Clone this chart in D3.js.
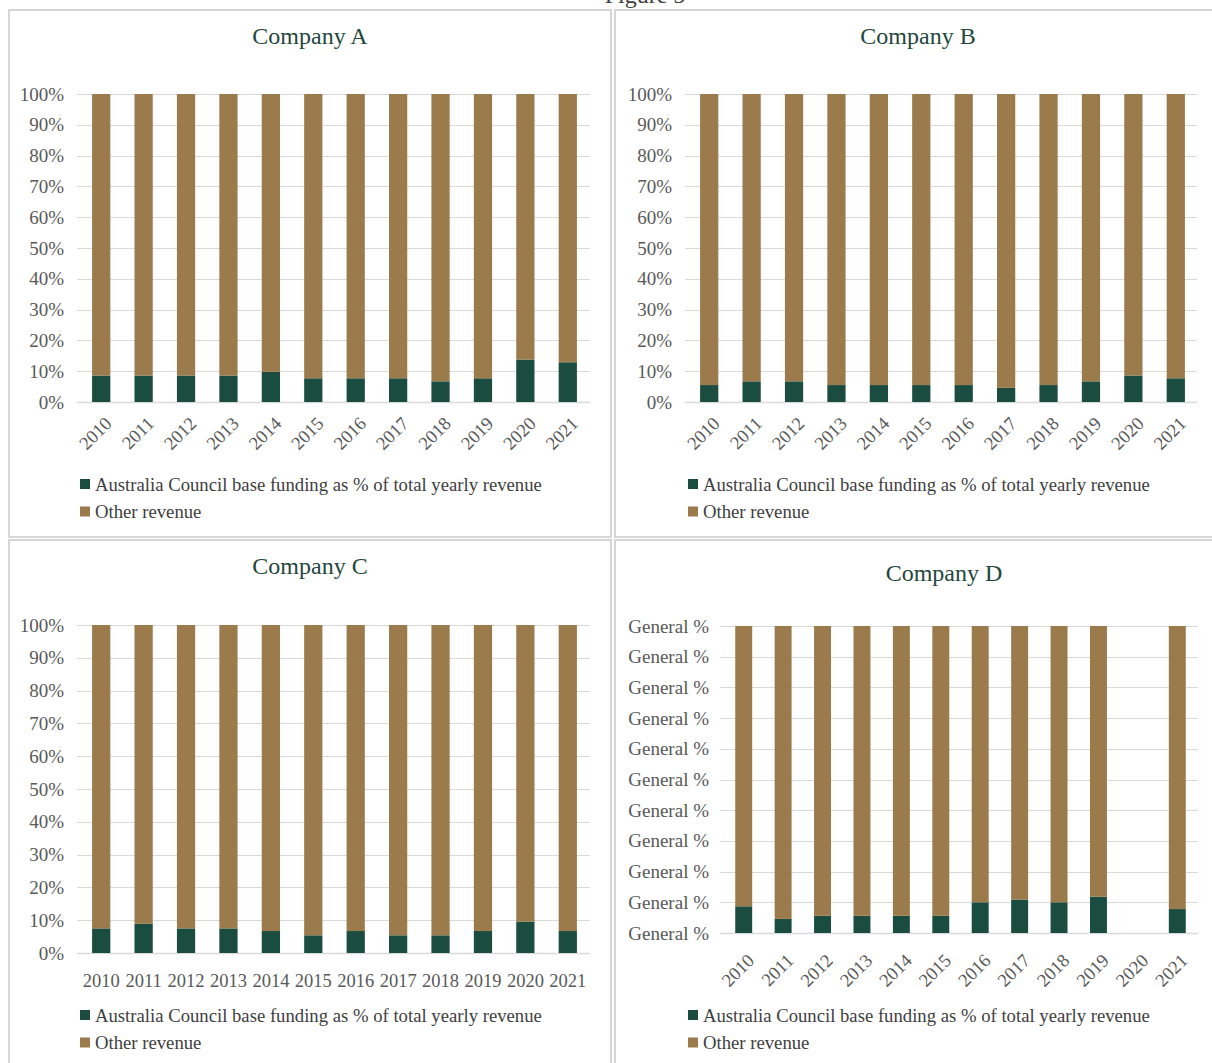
<!DOCTYPE html>
<html>
<head>
<meta charset="utf-8">
<script src="https://cdn.jsdelivr.net/npm/d3@7"></script>
<style>
  html, body { margin: 0; padding: 0; background: #ffffff; }
  svg { display: block; font-family: "Liberation Serif", "Times New Roman", serif; }
</style>
</head>
<body>
<svg id="chart" width="1212" height="1063"></svg>
<script>
// Years on the category axis
const years = ["2010","2011","2012","2013","2014","2015","2016","2017","2018","2019","2020","2021"];

// Australia Council base funding as % of total yearly revenue
const fundingA = [8.6, 8.6, 8.6, 8.6, 9.8, 7.7, 7.7, 7.7, 6.7, 7.7, 13.8, 12.9];
const fundingB = [5.5, 6.7, 6.7, 5.5, 5.5, 5.5, 5.5, 4.6, 5.5, 6.7, 8.6, 7.7];
const fundingC = [7.5, 8.9, 7.5, 7.5, 6.7, 5.4, 6.7, 5.4, 5.4, 6.7, 9.6, 6.7];
const fundingD = [8.7, 4.6, 5.6, 5.6, 5.6, 5.6, 10.0, 10.9, 10.0, 11.8, 0, 7.8];

// Other revenue share
const otherA = [91.4, 91.4, 91.4, 91.4, 90.2, 92.3, 92.3, 92.3, 93.3, 92.3, 86.2, 87.1];
const otherB = [94.5, 93.3, 93.3, 94.5, 94.5, 94.5, 94.5, 95.4, 94.5, 93.3, 91.4, 92.3];
const otherC = [92.5, 91.1, 92.5, 92.5, 93.3, 94.6, 93.3, 94.6, 94.6, 93.3, 90.4, 93.3];
const otherD = [91.3, 95.4, 94.4, 94.4, 94.4, 94.4, 90.0, 89.1, 90.0, 88.2, 0, 92.2];

// Value axis ticks and their labels
const yTicks = [0, 10, 20, 30, 40, 50, 60, 70, 80, 90, 100];
const percentLabels = ["0%","10%","20%","30%","40%","50%","60%","70%","80%","90%","100%"];
const generalLabels = ["General %","General %","General %","General %","General %","General %","General %","General %","General %","General %","General %"];

const seriesNames = ["Australia Council base funding as % of total yearly revenue", "Other revenue"];
const figureTitle = "Figure 5";

const COLORS = { funding: "#1a4d3f", other: "#9b7a4c" };
const GRID = "#d9d9d9";
const BORDER = "#d6d6d6";
const AXIS_TEXT = "#595959";
const TITLE_TEXT = "#24473d";
const LEGEND_TEXT = "#404040";

const svg = d3.select("#chart");

// Figure heading, mostly above the visible area
svg.append("text")
  .attr("x", 645).attr("y", 3)
  .attr("text-anchor", "middle")
  .attr("font-size", 24)
  .attr("fill", "#404040")
  .text(figureTitle);

const panels = [
  { title: "Company A", funding: fundingA, other: otherA, labels: percentLabels,
    box: [9, 10, 602, 527], titleX: 310, titleY: 44,
    grid: [77, 590], band: [80, 589], labelX: 64, xLabelShift: 18,
    plot: { y0: 94, y1: 402 }, rotate: true, legendX: 80, legendY: 484 },
  { title: "Company B", funding: fundingB, other: otherB, labels: percentLabels,
    box: [615, 10, 599, 527], titleX: 918, titleY: 44,
    grid: [685, 1197], band: [688, 1197], labelX: 672, xLabelShift: 18,
    plot: { y0: 94, y1: 402 }, rotate: true, legendX: 688, legendY: 484 },
  { title: "Company C", funding: fundingC, other: otherC, labels: percentLabels,
    box: [9, 540, 602, 530], titleX: 310, titleY: 574,
    grid: [77, 590], band: [80, 589], labelX: 64, xLabelShift: 0,
    plot: { y0: 625, y1: 953 }, rotate: false, legendX: 80, legendY: 1015 },
  { title: "Company D", funding: fundingD, other: otherD, labels: generalLabels,
    box: [615, 540, 599, 530], titleX: 944, titleY: 581,
    grid: [720, 1198], band: [724, 1197], labelX: 709, xLabelShift: 24,
    plot: { y0: 626, y1: 933 }, rotate: true, legendX: 688, legendY: 1015 }
];

panels.forEach(p => {
  const g = svg.append("g");

  // Panel frame
  g.append("rect")
    .attr("x", p.box[0]).attr("y", p.box[1])
    .attr("width", p.box[2]).attr("height", p.box[3])
    .attr("fill", "#ffffff")
    .attr("stroke", BORDER).attr("stroke-width", 2);

  // Panel title
  g.append("text")
    .attr("x", p.titleX)
    .attr("y", p.titleY)
    .attr("text-anchor", "middle")
    .attr("font-size", 24)
    .attr("fill", TITLE_TEXT)
    .text(p.title);

  const x = d3.scaleBand().domain(years).range(p.band).paddingInner(0.57).paddingOuter(0.285);
  const y = d3.scaleLinear().domain([0, 100]).range([p.plot.y1, p.plot.y0]);

  // Horizontal gridlines
  g.append("g").selectAll("line").data(yTicks).join("line")
    .attr("x1", p.grid[0]).attr("x2", p.grid[1])
    .attr("y1", d => Math.round(y(d)) + 0.5).attr("y2", d => Math.round(y(d)) + 0.5)
    .attr("stroke", GRID).attr("stroke-width", d => d === 0 ? 1.5 : 1.2);

  // Value axis labels
  const yAxis = d3.axisLeft(y).tickValues(yTicks)
    .tickFormat((d, i) => p.labels[i]).tickSize(0).tickPadding(0);
  const ya = g.append("g").attr("transform", `translate(${p.labelX},0)`).call(yAxis);
  ya.select(".domain").remove();
  ya.selectAll("text").attr("font-size", 19).attr("fill", AXIS_TEXT)
    .attr("font-family", "Liberation Serif, serif");

  // Stacked bars
  const rows = years.map((yr, i) => ({ year: yr, funding: p.funding[i], other: p.other[i] }));
  const stacked = d3.stack().keys(["funding", "other"])(rows);
  g.append("g").selectAll("g").data(stacked).join("g")
    .attr("fill", d => COLORS[d.key])
    .selectAll("rect").data(d => d).join("rect")
      .attr("x", d => x(d.data.year))
      .attr("width", x.bandwidth())
      .attr("y", d => y(d[1]))
      .attr("height", d => y(d[0]) - y(d[1]));

  // Category axis labels
  const xAxis = d3.axisBottom(x).tickSize(0).tickPadding(0);
  const xa = g.append("g").attr("transform", `translate(0,${p.plot.y1})`).call(xAxis);
  xa.select(".domain").remove();
  xa.selectAll("text").attr("font-size", 18.5).attr("fill", AXIS_TEXT)
    .attr("font-family", "Liberation Serif, serif");
  if (p.rotate) {
    xa.selectAll("text")
      .attr("text-anchor", "end")
      .attr("dy", "0.35em")
      .attr("transform", `translate(7,${p.xLabelShift}) rotate(-45)`);
  } else {
    xa.selectAll("text").attr("dy", "0").attr("y", 34);
  }

  // Legend
  const lg = g.append("g").attr("transform", `translate(${p.legendX},${p.legendY})`);
  const items = lg.selectAll("g").data(seriesNames).join("g")
    .attr("transform", (d, i) => `translate(0,${i * 27.5})`);
  items.append("rect")
    .attr("x", 0).attr("y", -5).attr("width", 10).attr("height", 10)
    .attr("fill", (d, i) => i === 0 ? COLORS.funding : COLORS.other);
  items.append("text")
    .attr("x", 15).attr("y", 0).attr("dy", "0.35em")
    .attr("font-size", 18.7).attr("fill", LEGEND_TEXT)
    .text(d => d);
});
</script>
</body>
</html>
